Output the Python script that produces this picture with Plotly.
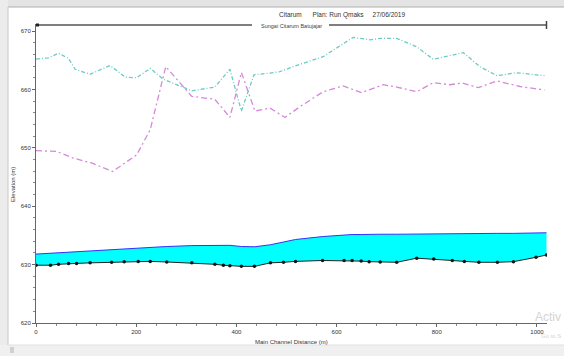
import plotly.graph_objects as go

# Main channel stations (m) and elevations (m)
stations = [0, 29, 45, 65, 81, 108, 151, 176, 204, 228, 261, 311, 357, 374, 387, 410, 436, 468,
            494, 518, 572, 615, 631, 649, 665, 687, 720, 760, 794, 831, 855, 884, 921, 953, 998, 1019]
ground = [629.9, 629.9, 630.05, 630.2, 630.2, 630.3, 630.4, 630.5, 630.55, 630.55, 630.45, 630.3,
          630.05, 629.9, 629.8, 629.7, 629.7, 630.3, 630.4, 630.55, 630.7, 630.7, 630.7, 630.6,
          630.5, 630.45, 630.4, 631.1, 630.95, 630.7, 630.55, 630.4, 630.4, 630.5, 631.25, 631.65]
ws_qmaks = [631.8, 631.95, 632.0, 632.05, 632.15, 632.3, 632.55, 632.7, 632.85, 632.95, 633.1, 633.25,
            633.35, 633.35, 633.3, 633.1, 633.05, 633.4, 633.8, 634.3, 634.8, 635.1, 635.15, 635.15,
            635.2, 635.2, 635.2, 635.25, 635.3, 635.3, 635.3, 635.3, 635.35, 635.35, 635.4, 635.45]

lob_st = [0, 25, 45, 65, 78, 108, 148, 178, 201, 228, 254, 281, 311, 357, 387, 410, 435, 467, 487,
          527, 573, 633, 667, 687, 720, 760, 793, 853, 886, 920, 959, 1015]
lob_z = [665.2, 665.4, 666.2, 665.3, 663.45, 662.6, 664.1, 662.1, 662.0, 663.6, 661.75, 660.8, 659.75,
         660.4, 663.45, 656.3, 662.5, 662.8, 663.05, 664.3, 665.6, 668.9, 668.5, 668.75, 668.75, 667.3,
         665.15, 666.3, 663.9, 662.35, 662.85, 662.35]

rob_st = [0, 41, 74, 111, 153, 201, 228, 259, 311, 357, 387, 410, 437, 467, 497, 527, 573, 613, 650,
          693, 720, 760, 793, 826, 850, 883, 920, 966, 1015]
rob_z = [649.5, 649.4, 648.25, 647.4, 645.95, 648.8, 653.1, 663.9, 658.8, 658.3, 655.2, 662.9, 656.3,
         656.8, 655.2, 657.05, 659.6, 660.6, 659.45, 660.8, 660.4, 659.6, 661.15, 660.8, 661.1, 660.3,
         661.45, 660.5, 659.9]

x_ticks = [0, 200, 400, 600, 800, 1000]
y_ticks = [620, 630, 640, 650, 660, 670]

# plot area in pixels
L, R, T, B = 36, 547, 24, 323
W, H = 564, 356
def px(x):
    return (x - L) / (R - L)
def py(y):
    return (B - y) / (B - T)

fig = go.Figure()
fig.add_trace(go.Scatter(x=stations, y=ground, mode="lines+markers", name="Ground",
                         line=dict(color="#222222", width=1),
                         marker=dict(color="#111111", size=3.5)))
fig.add_trace(go.Scatter(x=stations, y=ws_qmaks, mode="lines", name="WS Qmaks",
                         line=dict(color="#3333ff", width=1),
                         fill="tonexty", fillcolor="#00ffff"))
fig.add_trace(go.Scatter(x=lob_st, y=lob_z, mode="lines", name="LOB",
                         line=dict(color="#6ccbc4", width=1.3, dash="4px,2px,1px,2px")))
fig.add_trace(go.Scatter(x=rob_st, y=rob_z, mode="lines", name="ROB",
                         line=dict(color="#d38ad8", width=1.3, dash="6px,3px,2px,3px")))

axis_font = dict(family="Liberation Sans, Arial, sans-serif", size=6, color="#333333")
fig.update_xaxes(range=[0, 1020], tickvals=x_ticks, ticktext=[str(v) for v in x_ticks],
                 showgrid=False, zeroline=False, showline=True, linecolor="#666666", linewidth=1,
                 ticks="outside", ticklen=3, tickcolor="#666666", tickfont=axis_font,
                 minor=dict(dtick=40, ticks="outside", ticklen=2, tickcolor="#888888"))
fig.update_yaxes(range=[620, 671.2], tickvals=y_ticks, ticktext=[str(v) for v in y_ticks],
                 showgrid=False, zeroline=False, showline=True, linecolor="#666666", linewidth=1,
                 ticks="outside", ticklen=3, tickcolor="#666666", tickfont=axis_font,
                 minor=dict(dtick=2, ticks="outside", ticklen=2, tickcolor="#888888"))

shapes = [
    # window frame bands
    dict(type="rect", xref="paper", yref="paper", x0=px(0), x1=px(W), y0=py(0), y1=py(7),
         fillcolor="#e4e4e4", line=dict(width=0), layer="below"),
    dict(type="rect", xref="paper", yref="paper", x0=px(0), x1=px(8), y0=py(0), y1=py(H),
         fillcolor="#ececec", line=dict(width=0), layer="below"),
    dict(type="rect", xref="paper", yref="paper", x0=px(0), x1=px(W), y0=py(345), y1=py(H),
         fillcolor="#f0f0f0", line=dict(width=0), layer="below"),
    dict(type="line", xref="paper", yref="paper", x0=px(8), x1=px(W), y0=py(7), y1=py(7),
         line=dict(color="#b0b0b0", width=1)),
    dict(type="line", xref="paper", yref="paper", x0=px(8), x1=px(8), y0=py(7), y1=py(345),
         line=dict(color="#c8c8c8", width=1)),
    dict(type="line", xref="paper", yref="paper", x0=px(8), x1=px(W), y0=py(345), y1=py(345),
         line=dict(color="#e0e0e0", width=1)),
    dict(type="rect", xref="paper", yref="paper", x0=px(10), x1=px(14), y0=py(347), y1=py(353),
         fillcolor="#d0d0d0", line=dict(width=0)),
    # river reach line
    dict(type="line", xref="paper", yref="paper", x0=px(37), x1=px(252), y0=py(25), y1=py(25),
         line=dict(color="#555555", width=1.5)),
    dict(type="line", xref="paper", yref="paper", x0=px(329), x1=px(547), y0=py(25), y1=py(25),
         line=dict(color="#555555", width=1.5)),
    dict(type="rect", xref="paper", yref="paper", x0=px(36), x1=px(39), y0=py(23.5), y1=py(26.5),
         fillcolor="#222222", line=dict(width=0)),
    dict(type="line", xref="paper", yref="paper", x0=px(546.5), x1=px(546.5), y0=py(21), y1=py(29),
         line=dict(color="#444444", width=1.5)),
]

def ann(text, x, y, size, color="#333333", angle=0, xanchor="center"):
    return dict(text=text, xref="paper", yref="paper", x=px(x), y=py(y), showarrow=False,
                xanchor=xanchor, yanchor="middle", textangle=angle,
                font=dict(family="Liberation Sans, Arial, sans-serif", size=size, color=color))

annotations = [
    ann("Citarum&nbsp;&nbsp;&nbsp;&nbsp;&nbsp;&nbsp;Plan: Run Qmaks&nbsp;&nbsp;&nbsp;&nbsp;&nbsp;27/06/2019",
        342, 15.5, 6.5),
    ann("Sungai Citarum Batujajar", 291, 26, 5.5, "#444444"),
    ann("Main Channel Distance (m)", 291, 342, 6),
    ann("Elevation (m)", 13, 185, 6, angle=-90),
    ann("Activ", 563, 317, 12, "#d4d4d4", xanchor="right"),
    ann("Go to S", 563, 336, 6, "#d4d4d4", xanchor="right"),
]

fig.update_layout(width=W, height=H, margin=dict(l=L, r=W - R, t=T, b=H - B),
                  paper_bgcolor="white", plot_bgcolor="white", showlegend=False,
                  shapes=shapes, annotations=annotations)

fig.write_html("out.html", config={"displayModeBar": False},
               post_script="document.body.style.margin='0';document.body.style.overflow='hidden';")
